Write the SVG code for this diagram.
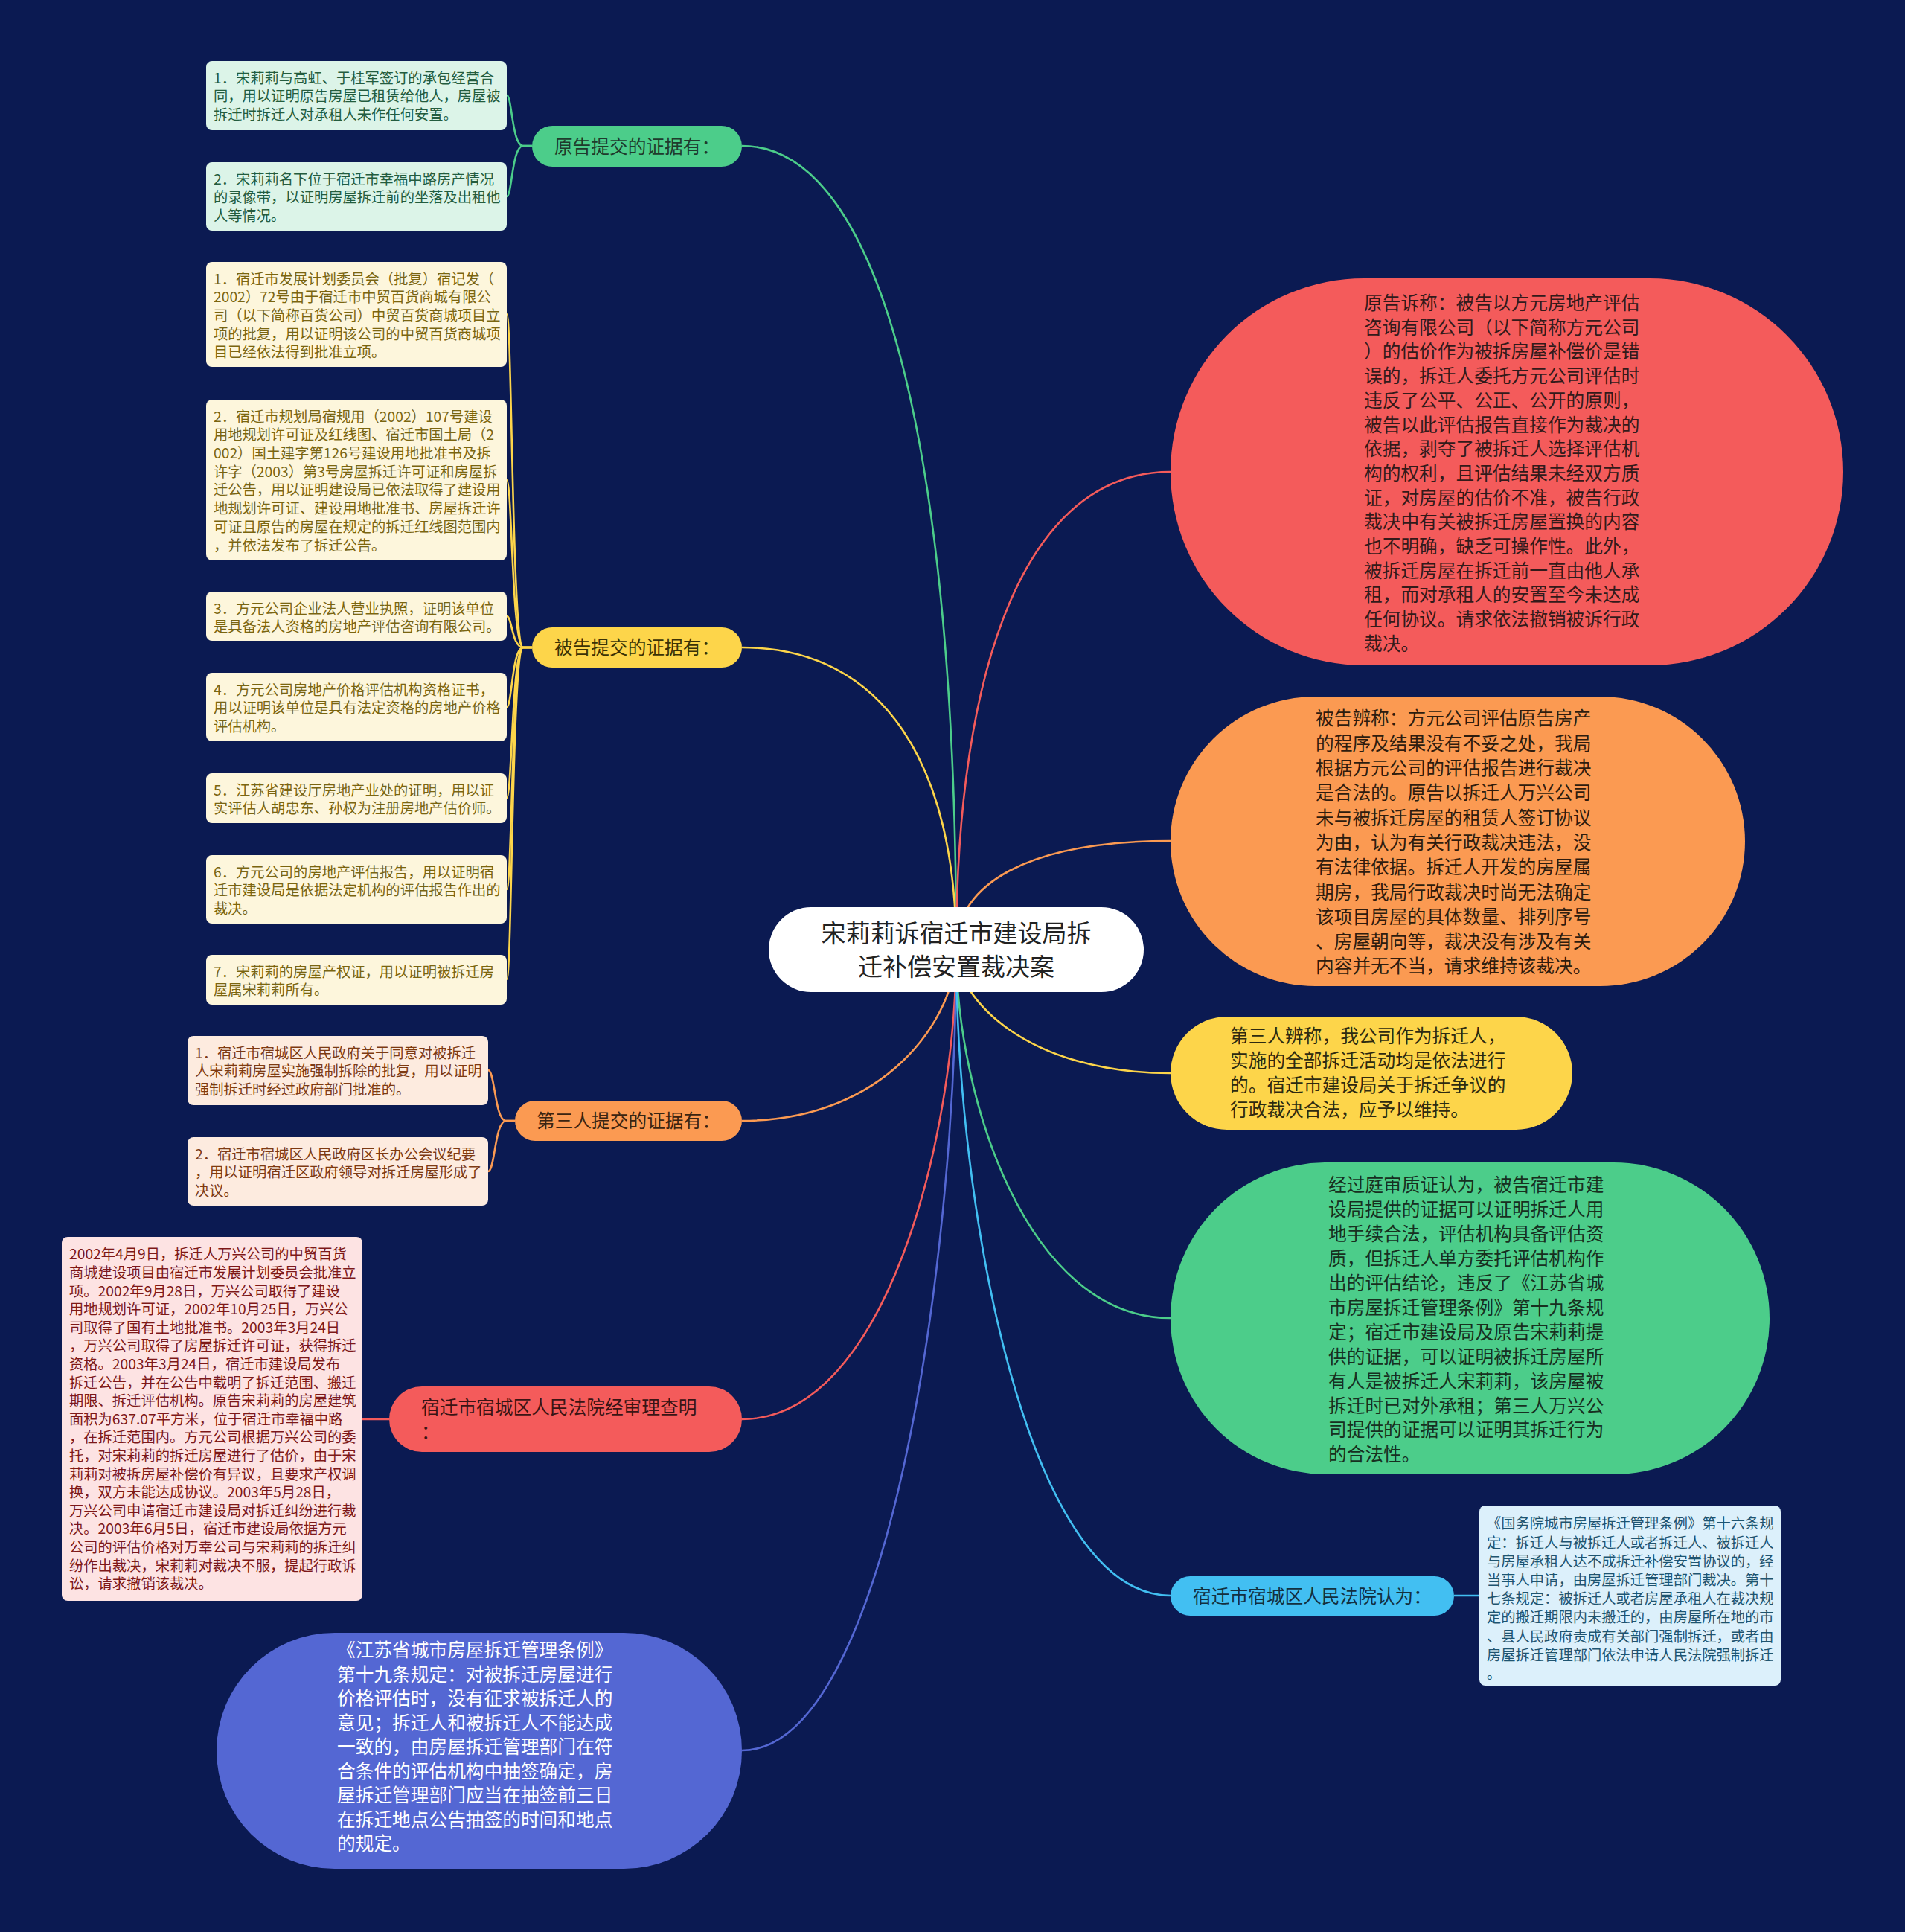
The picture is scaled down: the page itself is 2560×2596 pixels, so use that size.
<svg xmlns="http://www.w3.org/2000/svg" width="2560" height="2596" viewBox="0 0 2560 2596">
<style>
text{font-family:"Noto Sans CJK SC","Noto Sans",sans-serif}
.c{fill:none;stroke-width:2.6}
.bx{font-size:19.3px}
.big{font-size:24.7px}
.pl{font-size:24.7px}
</style>
<rect x="0" y="0" width="2560" height="2596" fill="#0b1a52"/>
<g id="connectors">
<path class="c" stroke="#4ccd8a" d="M997 196 C1190 196,1285 628,1285 1276"/>
<path class="c" stroke="#fdd54a" d="M997 870 C1190 870,1285 1032,1285 1276"/>
<path class="c" stroke="#fb9a52" d="M997 1506 C1190 1506,1285 1368,1285 1276"/>
<path class="c" stroke="#f45b5b" d="M997 1907 C1190 1907,1285 1528,1285 1276"/>
<path class="c" stroke="#5467d3" d="M997 2352 C1190 2352,1285 1706,1285 1276"/>
<path class="c" stroke="#f45b5b" d="M1573 634 C1380 634,1285 890,1285 1276"/>
<path class="c" stroke="#fb9a52" d="M1573 1130 C1380 1130,1285 1188,1285 1276"/>
<path class="c" stroke="#fdd54a" d="M1573 1442 C1380 1442,1285 1342,1285 1276"/>
<path class="c" stroke="#4ccd8a" d="M1573 1771 C1380 1771,1285 1474,1285 1276"/>
<path class="c" stroke="#42bff2" d="M1573 2144 C1380 2144,1285 1623,1285 1276"/>
<path class="c" stroke="#4ccd8a" d="M715 196 L703 196 C688 196,688 128,681 128"/>
<path class="c" stroke="#4ccd8a" d="M715 196 L703 196 C688 196,688 264,681 264"/>
<path class="c" stroke="#fdd54a" d="M715 870 L703 870 C688 870,688 422,681 422"/>
<path class="c" stroke="#fdd54a" d="M715 870 L703 870 C688 870,688 645,681 645"/>
<path class="c" stroke="#fdd54a" d="M715 870 L703 870 C688 870,688 828,681 828"/>
<path class="c" stroke="#fdd54a" d="M715 870 L703 870 C688 870,688 950,681 950"/>
<path class="c" stroke="#fdd54a" d="M715 870 L703 870 C688 870,688 1072,681 1072"/>
<path class="c" stroke="#fdd54a" d="M715 870 L703 870 C688 870,688 1195,681 1195"/>
<path class="c" stroke="#fdd54a" d="M715 870 L703 870 C688 870,688 1316,681 1316"/>
<path class="c" stroke="#fb9a52" d="M692 1506 L680 1506 C665 1506,665 1438,656 1438"/>
<path class="c" stroke="#fb9a52" d="M692 1506 L680 1506 C665 1506,665 1574,656 1574"/>
<path class="c" stroke="#f45b5b" d="M523 1907 L487 1907"/>
<path class="c" stroke="#42bff2" d="M1954 2144 L1988 2144"/>
</g>
<g id="center">
<rect x="1033" y="1219" width="504" height="114" rx="57" fill="#ffffff"/>
<text x="1285" y="1265.5" font-size="33" fill="#222" text-anchor="middle">宋莉莉诉宿迁市建设局拆</text>
<text x="1285" y="1310.5" font-size="33" fill="#222" text-anchor="middle">迁补偿安置裁决案</text>
</g>
<g id="n-plaintiff">
<rect x="715" y="169" width="282" height="55" rx="27.5" fill="#4ccd8a"/>
<text class="pl" x="856" y="206" fill="#1f3b2c" text-anchor="middle">原告提交的证据有：</text>
</g>
<g id="n-defendant">
<rect x="715" y="843" width="282" height="54" rx="27" fill="#fdd54a"/>
<text class="pl" x="856" y="879.4" fill="#3b3205" text-anchor="middle">被告提交的证据有：</text>
</g>
<g id="n-third">
<rect x="692" y="1479" width="305" height="54" rx="27" fill="#fb9a52"/>
<text class="pl" x="844.5" y="1515.4" fill="#3b2410" text-anchor="middle">第三人提交的证据有：</text>
</g>
<g id="n-court-found">
<rect x="523" y="1863" width="474" height="88" rx="44" fill="#f45b5b"/>
<text class="pl" fill="#3a1414"><tspan x="566" y="1900">宿迁市宿城区人民法院经审理查明</tspan><tspan x="566" y="1933">：</tspan></text>
</g>
<g id="n-jiangsu">
<rect x="291" y="2194" width="706" height="317" rx="158.5" fill="#5467d3"/>
<text class="big" fill="#ffffff"><tspan x="453" y="2226.4">《江苏省城市房屋拆迁管理条例》</tspan><tspan x="453" dy="32.5">第十九条规定：对被拆迁房屋进行</tspan><tspan x="453" dy="32.5">价格评估时，没有征求被拆迁人的</tspan><tspan x="453" dy="32.5">意见；拆迁人和被拆迁人不能达成</tspan><tspan x="453" dy="32.5">一致的，由房屋拆迁管理部门在符</tspan><tspan x="453" dy="32.5">合条件的评估机构中抽签确定，房</tspan><tspan x="453" dy="32.5">屋拆迁管理部门应当在抽签前三日</tspan><tspan x="453" dy="32.5">在拆迁地点公告抽签的时间和地点</tspan><tspan x="453" dy="32.5">的规定。</tspan></text>
</g>
<g id="n-claim">
<rect x="1573" y="374" width="904" height="520" rx="260" fill="#f45b5b"/>
<text class="big" fill="#331a1a"><tspan x="1833" y="416">原告诉称：被告以方元房地产评估</tspan><tspan x="1833" dy="32.7">咨询有限公司（以下简称方元公司</tspan><tspan x="1833" dy="32.7">）的估价作为被拆房屋补偿价是错</tspan><tspan x="1833" dy="32.7">误的，拆迁人委托方元公司评估时</tspan><tspan x="1833" dy="32.7">违反了公平、公正、公开的原则，</tspan><tspan x="1833" dy="32.7">被告以此评估报告直接作为裁决的</tspan><tspan x="1833" dy="32.7">依据，剥夺了被拆迁人选择评估机</tspan><tspan x="1833" dy="32.7">构的权利，且评估结果未经双方质</tspan><tspan x="1833" dy="32.7">证，对房屋的估价不准，被告行政</tspan><tspan x="1833" dy="32.7">裁决中有关被拆迁房屋置换的内容</tspan><tspan x="1833" dy="32.7">也不明确，缺乏可操作性。此外，</tspan><tspan x="1833" dy="32.7">被拆迁房屋在拆迁前一直由他人承</tspan><tspan x="1833" dy="32.7">租，而对承租人的安置至今未达成</tspan><tspan x="1833" dy="32.7">任何协议。请求依法撤销被诉行政</tspan><tspan x="1833" dy="32.7">裁决。</tspan></text>
</g>
<g id="n-defense">
<rect x="1573" y="936" width="772" height="389" rx="194.5" fill="#fb9a52"/>
<text class="big" fill="#2e1c0e"><tspan x="1768" y="974.4">被告辨称：方元公司评估原告房产</tspan><tspan x="1768" dy="33.3">的程序及结果没有不妥之处，我局</tspan><tspan x="1768" dy="33.3">根据方元公司的评估报告进行裁决</tspan><tspan x="1768" dy="33.3">是合法的。原告以拆迁人万兴公司</tspan><tspan x="1768" dy="33.3">未与被拆迁房屋的租赁人签订协议</tspan><tspan x="1768" dy="33.3">为由，认为有关行政裁决违法，没</tspan><tspan x="1768" dy="33.3">有法律依据。拆迁人开发的房屋属</tspan><tspan x="1768" dy="33.3">期房，我局行政裁决时尚无法确定</tspan><tspan x="1768" dy="33.3">该项目房屋的具体数量、排列序号</tspan><tspan x="1768" dy="33.3">、房屋朝向等，裁决没有涉及有关</tspan><tspan x="1768" dy="33.3">内容并无不当，请求维持该裁决。</tspan></text>
</g>
<g id="n-third-defense">
<rect x="1573" y="1366" width="540" height="152" rx="76" fill="#fdd54a"/>
<text class="big" fill="#2e2a10"><tspan x="1653" y="1401.4">第三人辨称，我公司作为拆迁人，</tspan><tspan x="1653" dy="32.7">实施的全部拆迁活动均是依法进行</tspan><tspan x="1653" dy="32.7">的。宿迁市建设局关于拆迁争议的</tspan><tspan x="1653" dy="32.7">行政裁决合法，应予以维持。</tspan></text>
</g>
<g id="n-trial">
<rect x="1573" y="1562" width="805" height="419" rx="209.5" fill="#4ccd8a"/>
<text class="big" fill="#17301f"><tspan x="1785" y="1601.4">经过庭审质证认为，被告宿迁市建</tspan><tspan x="1785" dy="32.9">设局提供的证据可以证明拆迁人用</tspan><tspan x="1785" dy="32.9">地手续合法，评估机构具备评估资</tspan><tspan x="1785" dy="32.9">质，但拆迁人单方委托评估机构作</tspan><tspan x="1785" dy="32.9">出的评估结论，违反了《江苏省城</tspan><tspan x="1785" dy="32.9">市房屋拆迁管理条例》第十九条规</tspan><tspan x="1785" dy="32.9">定；宿迁市建设局及原告宋莉莉提</tspan><tspan x="1785" dy="32.9">供的证据，可以证明被拆迁房屋所</tspan><tspan x="1785" dy="32.9">有人是被拆迁人宋莉莉，该房屋被</tspan><tspan x="1785" dy="32.9">拆迁时已对外承租；第三人万兴公</tspan><tspan x="1785" dy="32.9">司提供的证据可以证明其拆迁行为</tspan><tspan x="1785" dy="32.9">的合法性。</tspan></text>
</g>
<g id="n-court-holds">
<rect x="1573" y="2118" width="381" height="53" rx="26.5" fill="#42bff2"/>
<text class="pl" x="1763.5" y="2154" fill="#13303f" text-anchor="middle">宿迁市宿城区人民法院认为：</text>
</g>
<g id="e-p1">
<rect x="277" y="82" width="404" height="93" rx="8" fill="#dcf4e8"/>
<text class="bx" fill="#235c3e"><tspan x="287" y="111.6">1．宋莉莉与高虹、于桂军签订的承包经营合</tspan><tspan x="287" dy="24.7">同，用以证明原告房屋已租赁给他人，房屋被</tspan><tspan x="287" dy="24.7">拆迁时拆迁人对承租人未作任何安置。</tspan></text>
</g>
<g id="e-p2">
<rect x="277" y="218" width="404" height="92" rx="8" fill="#dcf4e8"/>
<text class="bx" fill="#235c3e"><tspan x="287" y="247.6">2．宋莉莉名下位于宿迁市幸福中路房产情况</tspan><tspan x="287" dy="24.7">的录像带，以证明房屋拆迁前的坐落及出租他</tspan><tspan x="287" dy="24.7">人等情况。</tspan></text>
</g>
<g id="e-d1">
<rect x="277" y="352" width="404" height="141" rx="8" fill="#fdf6dc"/>
<text class="bx" fill="#7a6510"><tspan x="287" y="381.6">1．宿迁市发展计划委员会（批复）宿记发（</tspan><tspan x="287" dy="24.7">2002）72号由于宿迁市中贸百货商城有限公</tspan><tspan x="287" dy="24.7">司（以下简称百货公司）中贸百货商城项目立</tspan><tspan x="287" dy="24.7">项的批复，用以证明该公司的中贸百货商城项</tspan><tspan x="287" dy="24.7">目已经依法得到批准立项。</tspan></text>
</g>
<g id="e-d2">
<rect x="277" y="537" width="404" height="216" rx="8" fill="#fdf6dc"/>
<text class="bx" fill="#7a6510"><tspan x="287" y="566.6">2．宿迁市规划局宿规用（2002）107号建设</tspan><tspan x="287" dy="24.7">用地规划许可证及红线图、宿迁市国土局（2</tspan><tspan x="287" dy="24.7">002）国土建字第126号建设用地批准书及拆</tspan><tspan x="287" dy="24.7">许字（2003）第3号房屋拆迁许可证和房屋拆</tspan><tspan x="287" dy="24.7">迁公告，用以证明建设局已依法取得了建设用</tspan><tspan x="287" dy="24.7">地规划许可证、建设用地批准书、房屋拆迁许</tspan><tspan x="287" dy="24.7">可证且原告的房屋在规定的拆迁红线图范围内</tspan><tspan x="287" dy="24.7">，并依法发布了拆迁公告。</tspan></text>
</g>
<g id="e-d3">
<rect x="277" y="795" width="404" height="66" rx="8" fill="#fdf6dc"/>
<text class="bx" fill="#7a6510"><tspan x="287" y="824.6">3．方元公司企业法人营业执照，证明该单位</tspan><tspan x="287" dy="24.7">是具备法人资格的房地产评估咨询有限公司。</tspan></text>
</g>
<g id="e-d4">
<rect x="277" y="904" width="404" height="92" rx="8" fill="#fdf6dc"/>
<text class="bx" fill="#7a6510"><tspan x="287" y="933.6">4．方元公司房地产价格评估机构资格证书，</tspan><tspan x="287" dy="24.7">用以证明该单位是具有法定资格的房地产价格</tspan><tspan x="287" dy="24.7">评估机构。</tspan></text>
</g>
<g id="e-d5">
<rect x="277" y="1039" width="404" height="67" rx="8" fill="#fdf6dc"/>
<text class="bx" fill="#7a6510"><tspan x="287" y="1068.6">5．江苏省建设厅房地产业处的证明，用以证</tspan><tspan x="287" dy="24.7">实评估人胡忠东、孙权为注册房地产估价师。</tspan></text>
</g>
<g id="e-d6">
<rect x="277" y="1149" width="404" height="92" rx="8" fill="#fdf6dc"/>
<text class="bx" fill="#7a6510"><tspan x="287" y="1178.6">6．方元公司的房地产评估报告，用以证明宿</tspan><tspan x="287" dy="24.7">迁市建设局是依据法定机构的评估报告作出的</tspan><tspan x="287" dy="24.7">裁决。</tspan></text>
</g>
<g id="e-d7">
<rect x="277" y="1283" width="404" height="67" rx="8" fill="#fdf6dc"/>
<text class="bx" fill="#7a6510"><tspan x="287" y="1312.6">7．宋莉莉的房屋产权证，用以证明被拆迁房</tspan><tspan x="287" dy="24.7">屋属宋莉莉所有。</tspan></text>
</g>
<g id="e-t1">
<rect x="252" y="1392" width="404" height="93" rx="8" fill="#fdebdf"/>
<text class="bx" fill="#7d3a12"><tspan x="262" y="1421.6">1．宿迁市宿城区人民政府关于同意对被拆迁</tspan><tspan x="262" dy="24.7">人宋莉莉房屋实施强制拆除的批复，用以证明</tspan><tspan x="262" dy="24.7">强制拆迁时经过政府部门批准的。</tspan></text>
</g>
<g id="e-t2">
<rect x="252" y="1528" width="404" height="92" rx="8" fill="#fdebdf"/>
<text class="bx" fill="#7d3a12"><tspan x="262" y="1557.6">2．宿迁市宿城区人民政府区长办公会议纪要</tspan><tspan x="262" dy="24.7">，用以证明宿迁区政府领导对拆迁房屋形成了</tspan><tspan x="262" dy="24.7">决议。</tspan></text>
</g>
<g id="e-facts">
<rect x="83" y="1662" width="404" height="489" rx="8" fill="#fde3e3"/>
<text class="bx" fill="#7d1818"><tspan x="93" y="1692.3">2002年4月9日，拆迁人万兴公司的中贸百货</tspan><tspan x="93" dy="24.6">商城建设项目由宿迁市发展计划委员会批准立</tspan><tspan x="93" dy="24.6">项。2002年9月28日，万兴公司取得了建设</tspan><tspan x="93" dy="24.6">用地规划许可证，2002年10月25日，万兴公</tspan><tspan x="93" dy="24.6">司取得了国有土地批准书。2003年3月24日</tspan><tspan x="93" dy="24.6">，万兴公司取得了房屋拆迁许可证，获得拆迁</tspan><tspan x="93" dy="24.6">资格。2003年3月24日，宿迁市建设局发布</tspan><tspan x="93" dy="24.6">拆迁公告，并在公告中载明了拆迁范围、搬迁</tspan><tspan x="93" dy="24.6">期限、拆迁评估机构。原告宋莉莉的房屋建筑</tspan><tspan x="93" dy="24.6">面积为637.07平方米，位于宿迁市幸福中路</tspan><tspan x="93" dy="24.6">，在拆迁范围内。方元公司根据万兴公司的委</tspan><tspan x="93" dy="24.6">托，对宋莉莉的拆迁房屋进行了估价，由于宋</tspan><tspan x="93" dy="24.6">莉莉对被拆房屋补偿价有异议，且要求产权调</tspan><tspan x="93" dy="24.6">换，双方未能达成协议。2003年5月28日，</tspan><tspan x="93" dy="24.6">万兴公司申请宿迁市建设局对拆迁纠纷进行裁</tspan><tspan x="93" dy="24.6">决。2003年6月5日，宿迁市建设局依据方元</tspan><tspan x="93" dy="24.6">公司的评估价格对万幸公司与宋莉莉的拆迁纠</tspan><tspan x="93" dy="24.6">纷作出裁决，宋莉莉对裁决不服，提起行政诉</tspan><tspan x="93" dy="24.6">讼，请求撤销该裁决。</tspan></text>
</g>
<g id="e-law">
<rect x="1988" y="2023" width="405" height="242" rx="8" fill="#dcf0fb"/>
<text class="bx" fill="#1e5470"><tspan x="1998" y="2054.3">《国务院城市房屋拆迁管理条例》第十六条规</tspan><tspan x="1998" dy="25.2">定：拆迁人与被拆迁人或者拆迁人、被拆迁人</tspan><tspan x="1998" dy="25.2">与房屋承租人达不成拆迁补偿安置协议的，经</tspan><tspan x="1998" dy="25.2">当事人申请，由房屋拆迁管理部门裁决。第十</tspan><tspan x="1998" dy="25.2">七条规定：被拆迁人或者房屋承租人在裁决规</tspan><tspan x="1998" dy="25.2">定的搬迁期限内未搬迁的，由房屋所在地的市</tspan><tspan x="1998" dy="25.2">、县人民政府责成有关部门强制拆迁，或者由</tspan><tspan x="1998" dy="25.2">房屋拆迁管理部门依法申请人民法院强制拆迁</tspan><tspan x="1998" dy="25.2">。</tspan></text>
</g>
</svg>
